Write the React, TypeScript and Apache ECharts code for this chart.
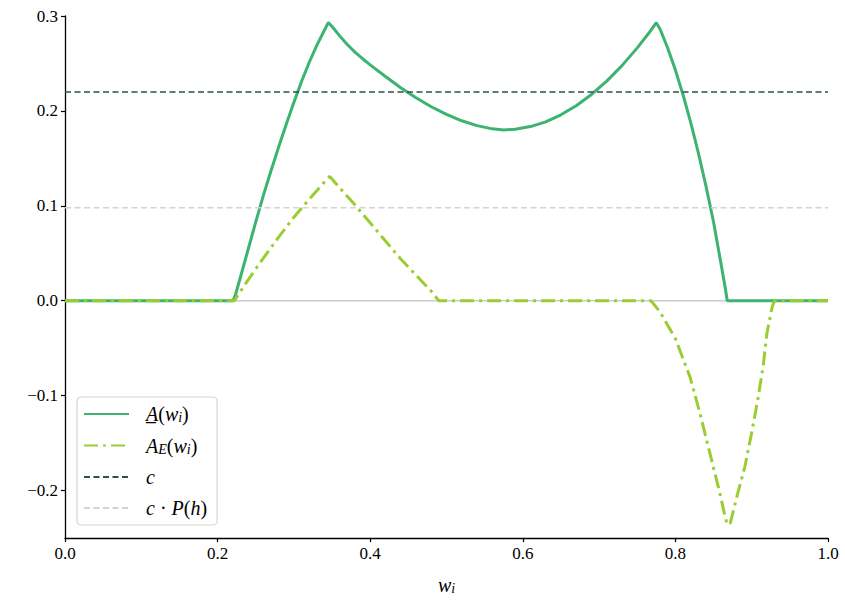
import React, { useEffect, useRef } from "react";
import * as echarts from "echarts";

// A(w_i): solid curve
const wA = [0, 0.22, 0.223, 0.23, 0.24, 0.25, 0.26, 0.27, 0.28, 0.29, 0.3, 0.31, 0.32, 0.33, 0.34, 0.345, 0.35, 0.36, 0.37, 0.38, 0.39, 0.4, 0.42, 0.44, 0.46, 0.48, 0.5, 0.52, 0.54, 0.56, 0.575, 0.59, 0.61, 0.63, 0.65, 0.67, 0.69, 0.71, 0.73, 0.75, 0.765, 0.775, 0.78, 0.79, 0.8, 0.81, 0.82, 0.83, 0.84, 0.85, 0.86, 0.865, 0.868, 1.0];
const vA = [0, 0, 0.005, 0.025, 0.054, 0.083, 0.111, 0.137, 0.162, 0.186, 0.209, 0.231, 0.251, 0.269, 0.285, 0.293, 0.289, 0.279, 0.27, 0.262, 0.255, 0.2485, 0.2362, 0.2244, 0.2138, 0.2044, 0.1963, 0.1896, 0.1845, 0.1811, 0.18, 0.1806, 0.1835, 0.1885, 0.1959, 0.2055, 0.2173, 0.2314, 0.2477, 0.2664, 0.2818, 0.293, 0.286, 0.266, 0.243, 0.217, 0.188, 0.156, 0.121, 0.083, 0.038, 0.015, 0, 0];

// A_E(w_i): dash-dot curve
const wAE = [0, 0.222, 0.24, 0.26, 0.28, 0.3, 0.32, 0.34, 0.347, 0.36, 0.38, 0.4, 0.42, 0.44, 0.46, 0.48, 0.49, 0.768, 0.78, 0.8, 0.819, 0.832, 0.845, 0.858, 0.865, 0.868, 0.872, 0.882, 0.891, 0.9, 0.908, 0.915, 0.92, 0.927, 0.93, 1.0];
const vAE = [0, 0, 0.022, 0.045, 0.067, 0.088, 0.107, 0.125, 0.131, 0.119, 0.101, 0.082, 0.063, 0.044, 0.027, 0.01, 0, 0, -0.012, -0.04, -0.08, -0.118, -0.16, -0.202, -0.227, -0.236, -0.234, -0.202, -0.175, -0.139, -0.104, -0.069, -0.034, -0.006, 0, 0];

const cValue = 0.22;
const cPValue = 0.098;

const xTicks = [0, 0.2, 0.4, 0.6, 0.8, 1.0];
const yTicks = [-0.2, -0.1, 0, 0.1, 0.2, 0.3];

const zip = (xs: number[], ys: number[]) => xs.map((x, i) => [x, ys[i]]);

const FONT = "Liberation Serif";

export default function App() {
  const ref = useRef<HTMLDivElement>(null);
  useEffect(() => {
    if (!ref.current) return;
    const chart = echarts.init(ref.current, undefined, { renderer: "svg" });
    const rich = {
      n: { fontFamily: FONT, fontSize: 20, color: "#000" },
      i: { fontFamily: FONT, fontSize: 20, fontStyle: "italic", color: "#000" },
      s: { fontFamily: FONT, fontSize: 14, fontStyle: "italic", color: "#000", padding: [7, 0, 0, 0] },
    };
    const labels: Record<string, string> = {
      A: "{i|A̲}{n|(}{i|w}{s|i}{n|)}",
      AE: "{i|A}{s|E}{n|(}{i|w}{s|i}{n|)}",
      c: "{i|c}",
      cP: "{i|c}{n| · }{i|P}{n|(}{i|h}{n|)}",
    };
    chart.setOption({
      animation: false,
      backgroundColor: "#fff",
      grid: { left: 65, right: 17, top: 16, bottom: 63, containLabel: false },
      xAxis: {
        type: "value",
        min: 0,
        max: 1,
        interval: 0.2,
        name: "{i|w}{s|i}",
        nameLocation: "middle",
        nameGap: 36,
        nameTextStyle: { rich },
        splitLine: { show: false },
        axisLine: { onZero: false, lineStyle: { color: "#000", width: 1.3 } },
        axisTick: { show: true, inside: false, length: 4, lineStyle: { color: "#000", width: 1.2 } },
        axisLabel: {
          margin: 7,
          fontFamily: FONT,
          fontSize: 17,
          color: "#000",
          customValues: xTicks,
          formatter: (v: number) => v.toFixed(1),
        },
      },
      yAxis: {
        type: "value",
        min: -0.25,
        max: 0.3,
        splitLine: { show: false },
        axisLine: { onZero: false, lineStyle: { color: "#000", width: 1.3 } },
        axisTick: { show: true, inside: false, length: 4, customValues: yTicks, lineStyle: { color: "#000", width: 1.2 } },
        axisLabel: {
          margin: 7,
          fontFamily: FONT,
          fontSize: 17,
          color: "#000",
          customValues: yTicks,
          formatter: (v: number) => (v < 0 ? "−" + Math.abs(v).toFixed(1) : v.toFixed(1)),
        },
      },
      legend: {
        orient: "vertical",
        left: 77,
        top: 397,
        data: ["A", "AE", "c", "cP"],
        itemWidth: 45,
        itemHeight: 14,
        itemGap: 11,
        padding: [7, 10, 7, 6],
        borderColor: "#d5d5d5",
        borderWidth: 1.2,
        borderRadius: 4,
        backgroundColor: "rgba(255,255,255,0.85)",
        itemStyle: { opacity: 0 },
        formatter: (name: string) => labels[name],
        textStyle: { rich, padding: [0, 0, 0, 12] },
      },
      series: [
        {
          name: "zero",
          type: "line",
          data: [[0, 0], [1, 0]],
          symbol: "none",
          silent: true,
          lineStyle: { color: "#cccccc", width: 1.6 },
          z: 1,
        },
        {
          name: "A",
          type: "line",
          data: zip(wA, vA),
          symbol: "none",
          lineStyle: { color: "#3cb371", width: 3 },
          itemStyle: { color: "#3cb371" },
          z: 2,
        },
        {
          name: "AE",
          type: "line",
          data: zip(wAE, vAE),
          symbol: "none",
          lineStyle: { color: "#9acd32", width: 3, type: [14, 5, 3, 5] },
          itemStyle: { color: "#9acd32" },
          z: 3,
        },
        {
          name: "c",
          type: "line",
          data: [[0, cValue], [1, cValue]],
          symbol: "none",
          lineStyle: { color: "#2f4f4f", width: 1.6, type: [6, 3.5] },
          itemStyle: { color: "#2f4f4f" },
          z: 4,
        },
        {
          name: "cP",
          type: "line",
          data: [[0, cPValue], [1, cPValue]],
          symbol: "none",
          lineStyle: { color: "#d3d3d3", width: 1.6, type: [6, 3.5] },
          itemStyle: { color: "#d3d3d3" },
          z: 4,
        },
      ],
    });
    return () => chart.dispose();
  }, []);
  return <div ref={ref} style={{ position: "absolute", left: 0, top: 0, width: 845, height: 601 }} />;
}
